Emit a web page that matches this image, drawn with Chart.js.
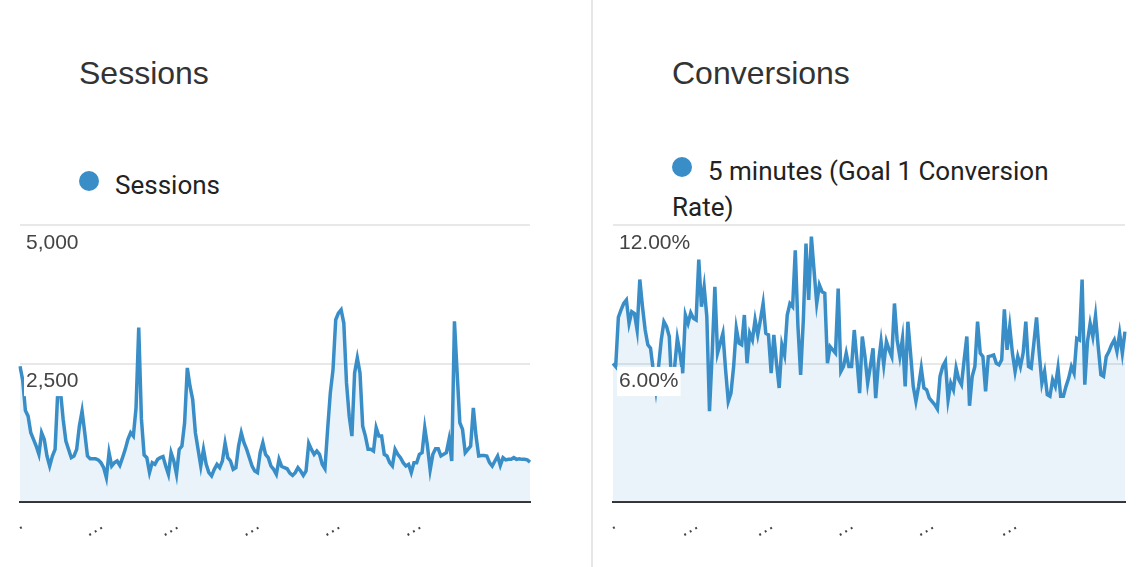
<!DOCTYPE html>
<html>
<head>
<meta charset="utf-8">
<script src="https://cdn.jsdelivr.net/npm/chart.js@4.4.1/dist/chart.umd.min.js"></script>
<style>
  body { margin: 0; width: 1147px; height: 567px; position: relative; background: #fff; overflow: hidden; }
  .panel { position: absolute; top: 0; height: 567px; }
  #leftPanel { left: 0; width: 592px; }
  #rightPanel { left: 593px; width: 554px; }
  .divider { position: absolute; left: 591px; top: 0; width: 2px; height: 567px; background: #e6e6e6; }
  .title { position: absolute; left: 79px; top: 57px; font: 32px/32px "Liberation Sans", Arial, sans-serif; color: #333; white-space: nowrap; }
  .legend { position: absolute; left: 79px; width: 410px; font: 26px/36px Roboto, sans-serif; color: #222; }
  .dot { display: inline-block; width: 20px; height: 20px; border-radius: 50%; background: #3a8ec8; margin-right: 16px; position: relative; top: -3px; vertical-align: baseline; }
  .plot { position: absolute; left: 0; top: 215px; height: 352px; }
</style>
</head>
<body>
<div class="divider"></div>

<div class="panel" id="leftPanel">
  <div class="title">Sessions</div>
  <div class="legend" style="top:167px"><span class="dot"></span>Sessions</div>
  <div class="plot" style="width:592px"><canvas id="sessionsChart"></canvas></div>
</div>

<div class="panel" id="rightPanel">
  <div class="title">Conversions</div>
  <div class="legend" style="top:153px"><span class="dot"></span>5 minutes (Goal 1 Conversion Rate)</div>
  <div class="plot" style="width:554px"><canvas id="conversionsChart"></canvas></div>
</div>

<script>
// daily sessions
const sessions = [
  2450, 2200, 1650, 1550, 1250, 1130, 1010, 860, 1250, 1130,
  830, 650, 830, 950, 2000, 2000, 1490, 1100, 950, 800,
  830, 950, 1370, 1640, 1250, 830, 780, 780, 780, 760,
  710, 620, 440, 890, 650, 710, 740, 660, 800, 950,
  1130, 1250, 1190, 1700, 3150, 1500, 850, 800, 530, 710,
  680, 770, 800, 820, 650, 500, 890, 740, 500, 950,
  1010, 1430, 2420, 2090, 1850, 1250, 950, 650, 950, 680,
  530, 470, 590, 680, 620, 740, 1060, 800, 740, 590,
  620, 1010, 1250, 1070, 950, 800, 650, 560, 530, 890,
  1070, 860, 800, 650, 590, 500, 770,
  640, 620, 600, 520, 480, 530, 620, 560, 480, 560,
  1060, 950, 860, 920, 860, 680, 600, 1310, 1970, 2390,
  3290, 3410, 3470, 3230, 2150, 1550, 1190, 2330, 2600, 2330,
  1370, 1190, 950, 950, 920, 1340, 1190, 1190, 860, 830,
  710, 650, 950, 860, 800, 710, 650, 680, 530, 710,
  710, 860, 890, 1340, 1010, 580, 860, 960, 960, 830,
  860, 890, 1130, 740, 3260, 2330, 1430, 1310, 890, 950,
  1010, 1700, 1190, 830, 840, 840, 830, 710, 650, 740,
  830, 660, 800, 760, 770, 770, 800, 770, 780, 770,
  770, 760, 720
];

// daily goal 1 conversion rate (%)
const conversionRate = [
  6.01, 5.87, 8.0, 8.32, 8.6, 8.75, 7.74, 8.25, 8.17, 7.45,
  9.64, 8.46, 7.45, 6.81, 6.66, 5.73, 4.86, 5.87, 7.02, 7.81,
  7.6, 7.17, 4.72, 5.87, 7.09, 6.45, 5.58, 8.1, 7.74, 8.2,
  7.96, 7.89, 10.5, 8.46, 9.32, 8.03, 3.93, 6.45, 9.32, 6.45,
  6.88, 7.31, 5.73, 4.36, 4.72, 5.87, 7.53, 6.88, 6.81, 8.1,
  6.01, 7.31, 7.02, 7.89, 7.24, 7.89, 8.6, 7.31, 7.24, 5.58,
  7.24, 6.01, 4.94, 6.81, 6.37, 8.1, 8.6, 8.46, 10.9, 7.6,
  5.51, 7.89, 11.2, 8.75, 11.5, 10.04, 8.6, 9.4, 9.11, 9.04,
  6.01, 6.73, 6.59, 6.45, 9.25, 5.65, 5.87, 6.45, 5.87, 5.87,
  7.45, 6.16, 4.72, 7.17, 6.3, 5.15,
  5.87, 6.66, 4.5, 6.01, 6.95, 5.94, 6.95, 6.59, 6.3, 8.6,
  7.02, 6.3, 7.09, 5.01, 7.81, 6.45, 5.01, 4.36, 5.01, 5.8,
  4.94, 4.86, 4.5, 4.36, 4.22, 4.03, 5.44, 5.87, 6.09, 4.43,
  5.15, 4.86, 5.8, 5.3, 5.08, 6.16, 7.17, 4.17, 5.44, 5.87,
  7.81, 6.45, 6.3, 4.79, 6.3, 6.33, 6.37, 6.01, 5.94, 6.16,
  8.35, 6.59, 7.6, 6.45, 5.65, 6.3, 5.87, 6.45, 7.81, 5.87,
  5.8, 6.88, 8.0, 6.45, 5.15, 5.65, 4.65, 4.58, 5.3, 5.01,
  5.8, 4.58, 4.58, 5.01, 5.37, 5.87, 5.58, 7.09, 7.02, 9.64,
  5.08, 6.95, 7.74, 7.17, 8.07, 6.73, 5.51, 5.44, 6.3, 6.52,
  6.81, 7.02, 6.52, 7.31, 6.45, 7.38
];

// x tick labels: the dates are cut down to ellipses in the original
const sessionTickIdx = [0, 30, 58, 88, 118, 148];
const conversionTickIdx = [0, 31, 59, 89, 119, 150];
const tickText = ['.', '…', '…', '…', '…', '…'];

// y axis ticks
const sessionsMax = 5000, sessionsStep = 2500;
const rateMax = 12, rateStep = 6;

const BLUE = '#3a8ec8';
const FILL = 'rgba(58, 142, 200, 0.11)';

function makeChart(id, values, tickIdx, yMax, yStep, fmt, padRight) {
    const ctx = document.getElementById(id);
    return new Chart(ctx, {
        type: 'line',
        data: {
            labels: values.map((_, i) => String(i + 1)),
            datasets: [{
                data: values,
                borderColor: BLUE,
                backgroundColor: FILL,
                borderWidth: 3.5,
                fill: 'origin',
                pointRadius: 0,
                tension: 0
            }]
        },
        options: {
            responsive: true,
            maintainAspectRatio: false,
            animation: false,
            layout: { padding: { left: 20, right: padRight, top: 10, bottom: 0 } },
            plugins: { legend: { display: false }, tooltip: { enabled: false } },
            scales: {
                x: {
                    grid: { display: false, drawTicks: false },
                    border: { display: true, color: '#333', width: 2 },
                    afterFit: s => {
                        s.height = 65;
                        s.paddingLeft = 0;
                        s.paddingRight = 0;
                    },
                    ticks: {
                        autoSkip: false,
                        minRotation: 30,
                        maxRotation: 30,
                        padding: 10,
                        labelOffset: 1,
                        color: '#444',
                        font: { family: 'Liberation Sans', size: 20 },
                        callback: (v, i) => {
                            const k = tickIdx.indexOf(i);
                            return k >= 0 ? tickText[k] : '';
                        }
                    }
                },
                y: {
                    min: 0,
                    max: yMax,
                    afterFit: s => {
                        s.width = 0;
                        s.paddingTop = 0;
                        s.paddingBottom = 0;
                    },
                    grid: { color: '#e8e8e8', lineWidth: 2, drawTicks: false },
                    border: { display: false },
                    ticks: {
                        z: 1,
                        stepSize: yStep,
                        mirror: true,
                        padding: 6,
                        labelOffset: 18,
                        color: '#444',
                        font: { family: 'Liberation Sans', size: 21 },
                        showLabelBackdrop: true,
                        backdropPadding: 2,
                        backdropColor: c => (c.tick && c.tick.value === 0) ? 'rgba(0,0,0,0)' : '#fff',
                        callback: v => v === 0 ? '' : fmt(v)
                    }
                }
            }
        }
    });
}

makeChart('sessionsChart', sessions, sessionTickIdx, sessionsMax, sessionsStep,
    v => v.toLocaleString('en-US'), 62);
makeChart('conversionsChart', conversionRate, conversionTickIdx, rateMax, rateStep,
    v => v.toFixed(2) + '%', 22);
</script>
</body>
</html>
